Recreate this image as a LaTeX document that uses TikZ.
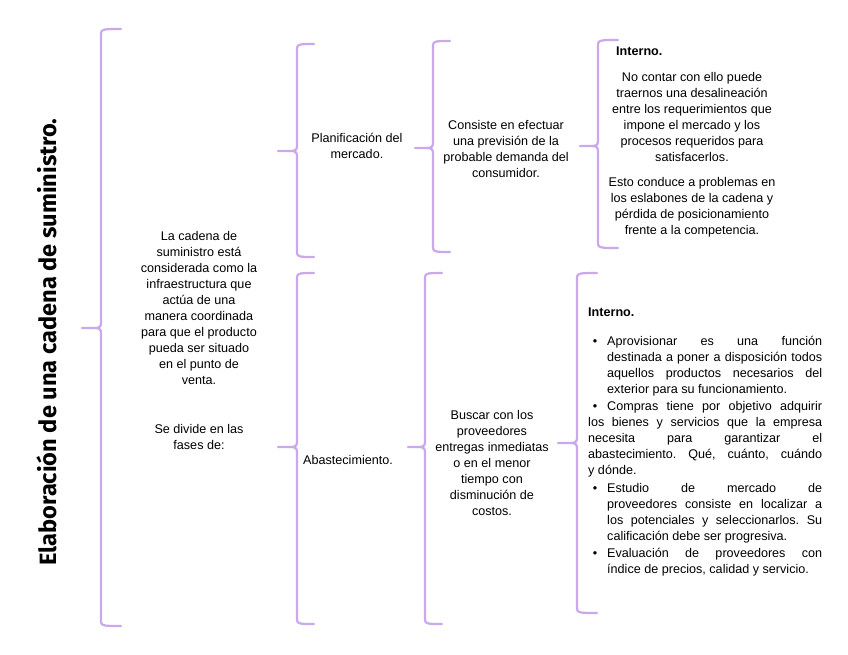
\documentclass[tikz,border=0pt]{standalone}
\usepackage{fontspec}
\usepackage{graphicx}
\setmainfont{Liberation Sans}
\newfontfamily\titlefont{Fira Sans}
\definecolor{bracecol}{RGB}{201,168,236}
\frenchspacing
\tikzset{
  bracestyle/.style={draw=bracecol, line width=2.2pt, line cap=round, line join=round},
  txt/.style={inner sep=0pt, align=center, font=\fontsize{12.6}{16}\selectfont},
  txtl/.style={inner sep=0pt, anchor=west, font=\fontsize{12.6}{16}\selectfont\bfseries},
}
\newcommand\drawbrace[6]{%
  \draw[bracestyle] (#1+#5,#2) .. controls (#1+4,#2) and (#1,#2) .. (#1,#2+4) -- (#1,#3-5) .. controls (#1,#3-1) and (#1-2,#3) .. (#1-6,#3) -- (#1-#6,#3);
  \draw[bracestyle] (#1-6,#3) .. controls (#1-2,#3) and (#1,#3+1) .. (#1,#3+5) -- (#1,#4-4) .. controls (#1,#4) and (#1+4,#4) .. (#1+#5,#4);
}
\newcommand\bulmark{\leavevmode\llap{\textbullet\hspace{10pt}}}
\begin{document}
\begin{tikzpicture}[x=1pt,y=-1pt]
\useasboundingbox (0,0) rectangle (848,655);
% braces
\drawbrace{101}{29}{328}{626}{20}{19}
\drawbrace{297}{44}{151}{257}{17}{19}
\drawbrace{433}{41}{148}{252}{17}{18}
\drawbrace{598}{40}{146}{248}{20}{18}
\drawbrace{297}{273}{447}{624}{17}{19}
\drawbrace{425}{273}{447}{624}{17}{17}
\drawbrace{577}{273}{443}{613}{20}{19}
% title
\node[rotate=90, inner sep=0pt] (title) at (47,342) {\resizebox{447pt}{!}{\titlefont\bfseries Elaboración de una cadena de suministro.}};
% left text
\node[txt] (def) at (199,308) {La cadena de\\suministro está\\considerada como la\\infraestructura que\\actúa de una\\manera coordinada\\para que el producto\\pueda ser situado\\en el punto de\\venta.};
\node[txt] (fases) at (199,437) {Se divide en las\\fases de:};
% phases
\node[txt] (plan) at (357,146) {Planificación del\\mercado.};
\node[txt, anchor=west] (abast) at (303,460) {Abastecimiento.};
\node[txt] (consiste) at (506,149) {Consiste en efectuar\\una previsión de la\\probable demanda del\\consumidor.};
\node[txt] (buscar) at (492,463) {Buscar con los\\proveedores\\entregas inmediatas\\o en el menor\\tiempo con\\disminución de\\costos.};
% interno top
\node[txtl] (int1) at (616,51) {Interno.};
\node[txt] (nocontar) at (692,117) {No contar con ello puede\\traernos una desalineación\\entre los requerimientos que\\impone el mercado y los\\procesos requeridos para\\satisfacerlos.};
\node[txt] (esto) at (692,207) {Esto conduce a problemas en\\los eslabones de la cadena y\\pérdida de posicionamiento\\frente a la competencia.};
% interno bottom
\node[inner sep=0pt, anchor=north west] (int2) at (588,308) {\begin{minipage}[t]{234pt}
\fontsize{12.6}{16}\selectfont\frenchspacing
\setlength\parindent{0pt}\setlength\parskip{1.5pt}\tolerance=10000 \hyphenpenalty=10000
{\bfseries Interno.}\par\vspace{11pt}
\hangindent=19pt \hangafter=0 \bulmark Aprovisionar es una función\linebreak destinada a poner a disposición todos\linebreak aquellos productos necesarios del\linebreak exterior para su funcionamiento.\par
\hspace*{19pt}\bulmark Compras tiene por objetivo adquirir\linebreak los bienes y servicios que la empresa\linebreak necesita para garantizar el\linebreak abastecimiento. Qué, cuánto, cuándo\linebreak y dónde.\par
\hangindent=19pt \hangafter=0 \bulmark Estudio de mercado de\linebreak proveedores consiste en localizar a\linebreak los potenciales y seleccionarlos. Su\linebreak calificación debe ser progresiva.\par
\hangindent=19pt \hangafter=0 \bulmark Evaluación de proveedores con\linebreak índice de precios, calidad y servicio.\par
\end{minipage}};
\end{tikzpicture}
\end{document}
